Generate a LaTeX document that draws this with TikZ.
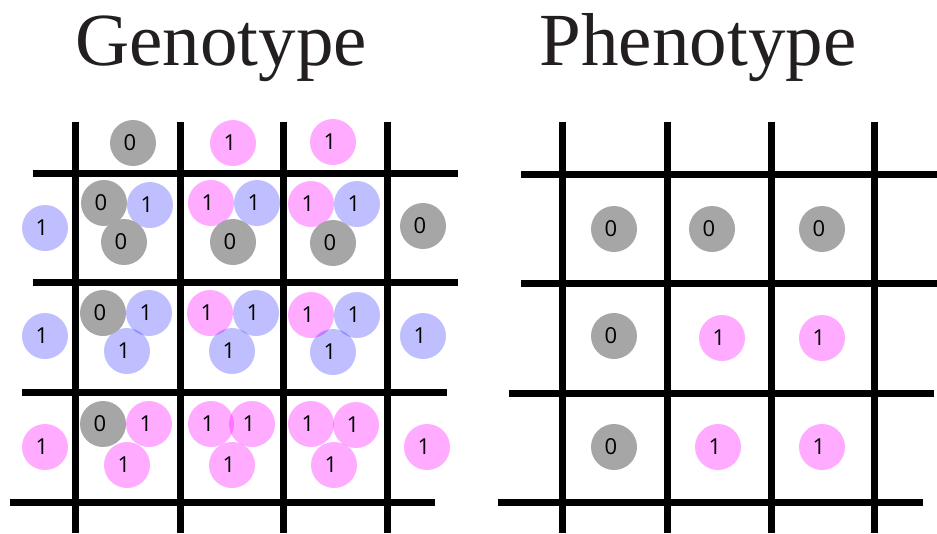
\documentclass[tikz,border=0pt]{standalone}
\usepackage{fontspec}
\setmainfont{Liberation Serif}
\newfontfamily\digitfont{Open Sans}
\definecolor{titlecol}{HTML}{231F20}
\definecolor{gcol}{HTML}{A6A6A6}
\definecolor{pkbase}{RGB}{255,0,255}
\definecolor{blbase}{RGB}{0,0,255}
\begin{document}
\begin{tikzpicture}[x=1pt,y=-1pt,
  gridline/.style={line width=7pt},
  title/.style={anchor=base,text=titlecol,font=\fontsize{75}{80}\selectfont},
  allele/.style={circle,minimum size=46pt,inner sep=0pt,text=black,font=\digitfont\fontsize{22}{22}\selectfont,execute at begin node={\kern-6pt}},
  gray0/.style={allele,fill=gcol},
  pink1/.style={allele,fill=pkbase,fill opacity=0.33,text opacity=1},
  blue1/.style={allele,fill=blbase,fill opacity=0.25,text opacity=1}]
\useasboundingbox (0,0) rectangle (937,533);
% titles
\node[title] (tgeno) at (221,65) {Genotype};
\node[title] (tpheno) at (698,65) {Phenotype};
% left grid
\foreach \x in {75,180,283,387} \draw[gridline] (\x,122) -- (\x,533);
\draw[gridline] (33,173) -- (458,173);
\draw[gridline] (33,282) -- (458,282);
\draw[gridline] (22,392) -- (447,392);
\draw[gridline] (10,502) -- (435,502);
% right grid
\foreach \x in {562,667,771,874} \draw[gridline] (\x,122) -- (\x,533);
\draw[gridline] (521,174) -- (937,174);
\draw[gridline] (521,283) -- (937,283);
\draw[gridline] (509,393) -- (934,393);
\draw[gridline] (498,502) -- (923,502);
% genotype: top parents
\node[gray0] (ta) at (133,143) {0};
\node[pink1] (tb) at (233,143) {1};
\node[pink1] (tc) at (333,142) {1};
% left parents
\node[blue1] (la) at (45,228) {1};
\node[blue1] (lb) at (45,336) {1};
\node[pink1] (lc) at (45,447) {1};
% right
\node[gray0] (ra) at (423,226) {0};
\node[blue1] (rb) at (423,336) {1};
\node[pink1] (rc) at (427,447) {1};
% row 1
\node[blue1] (c11b) at (150,205) {1};
\node[gray0] (c11a) at (104,203) {0};
\node[gray0] (c11c) at (124,242) {0};
\node[pink1] (c12a) at (211,203) {1};
\node[blue1] (c12b) at (257,203) {1};
\node[gray0] (c12c) at (233,242) {0};
\node[pink1] (c13a) at (311,204) {1};
\node[blue1] (c13b) at (357,204) {1};
\node[gray0] (c13c) at (333,243) {0};
% row 2
\node[blue1] (c21b) at (149,313) {1};
\node[blue1] (c21c) at (127,351) {1};
\node[gray0] (c21a) at (103,313) {0};
\node[pink1] (c22a) at (210,313) {1};
\node[blue1] (c22b) at (256,313) {1};
\node[blue1] (c22c) at (232,351) {1};
\node[pink1] (c23a) at (311,315) {1};
\node[blue1] (c23b) at (357,315) {1};
\node[blue1] (c23c) at (333,352) {1};
% row 3
\node[pink1] (c31b) at (149,424) {1};
\node[pink1] (c31c) at (127,465) {1};
\node[gray0] (c31a) at (103,424) {0};
\node[pink1] (c32a) at (211,424) {1};
\node[pink1] (c32b) at (252,424) {1};
\node[pink1] (c32c) at (232,465) {1};
\node[pink1] (c33a) at (311,424) {1};
\node[pink1] (c33b) at (356,425) {1};
\node[pink1] (c33c) at (334,465) {1};
% phenotype
\node[gray0] (p11) at (614,229) {0};
\node[gray0] (p12) at (712,229) {0};
\node[gray0] (p13) at (822,229) {0};
\node[gray0] (p21) at (614,336) {0};
\node[pink1] (p22) at (722,338) {1};
\node[pink1] (p23) at (822,338) {1};
\node[gray0] (p31) at (614,447) {0};
\node[pink1] (p32) at (718,447) {1};
\node[pink1] (p33) at (822,447) {1};
\end{tikzpicture}
\end{document}
